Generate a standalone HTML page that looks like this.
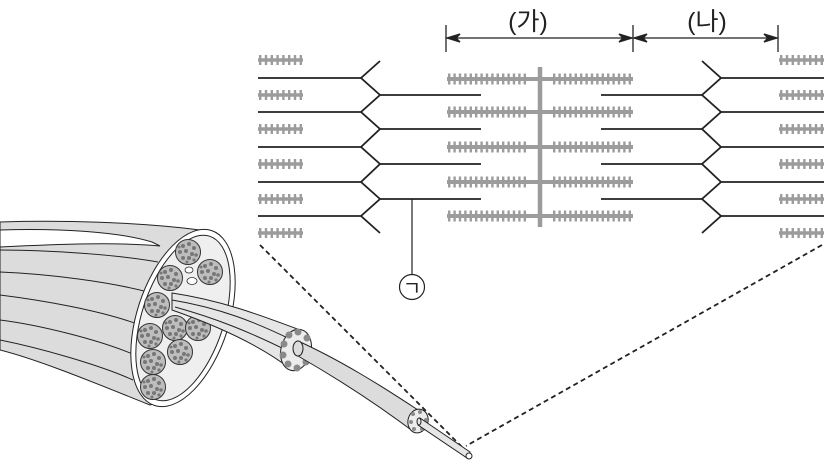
<!DOCTYPE html>
<html><head><meta charset="utf-8"><style>
html,body{margin:0;padding:0;background:#fff;width:831px;height:467px;overflow:hidden}
svg{display:block}
text{font-family:"Liberation Sans","Noto Sans CJK KR",sans-serif}
</style></head><body>
<svg width="831" height="467" viewBox="0 0 831 467" xmlns="http://www.w3.org/2000/svg">
<defs>
<g id="sm">
 <line x1="0" y1="0" x2="45" y2="0" stroke="#9c9c9c" stroke-width="3.5"/>
 <line x1="1" y1="0" x2="45" y2="0" stroke="#9c9c9c" stroke-width="10" stroke-dasharray="2.4 3.4"/>
</g>
<g id="bm">
 <line x1="447" y1="0" x2="633" y2="0" stroke="#9c9c9c" stroke-width="4"/>
 <line x1="448" y1="0" x2="527" y2="0" stroke="#9c9c9c" stroke-width="11" stroke-dasharray="2.4 3"/>
 <line x1="553" y1="0" x2="633" y2="0" stroke="#9c9c9c" stroke-width="11" stroke-dasharray="2.4 3"/>
</g>
<g id="fib">
 <circle r="12.5" fill="#bdbdbd" stroke="#333" stroke-width="1"/>
 <g fill="#777">
  <circle cx="-5" cy="-6" r="2"/><circle cx="1" cy="-8" r="2"/><circle cx="6" cy="-4" r="2"/>
  <circle cx="-8" cy="0" r="2"/><circle cx="-2" cy="-1" r="2"/><circle cx="4" cy="2" r="2"/>
  <circle cx="8" cy="3" r="1.8"/><circle cx="-5" cy="6" r="2"/><circle cx="1" cy="6" r="2"/>
  <circle cx="6" cy="8" r="1.6"/><circle cx="-1" cy="10" r="1.5"/><circle cx="-9" cy="-5" r="1.5"/>
 </g>
</g>
</defs>

<g stroke="#222" stroke-width="1.3" fill="#222">
 <line x1="446" y1="25" x2="446" y2="52"/>
 <line x1="633" y1="25" x2="633" y2="52"/>
 <line x1="778" y1="25" x2="778" y2="52"/>
 <line x1="447" y1="38" x2="632" y2="38"/>
 <line x1="634" y1="38" x2="777" y2="38"/>
 <path d="M447 38 L460 34 L456 38 L460 42Z"/>
 <path d="M632 38 L619 34 L623 38 L619 42Z"/>
 <path d="M634 38 L647 34 L643 38 L647 42Z"/>
 <path d="M777 38 L764 34 L768 38 L764 42Z"/>
</g>
<text x="528" y="30" font-size="25" text-anchor="middle" fill="#222">(가)</text>
<text x="707" y="30" font-size="25" text-anchor="middle" fill="#222">(나)</text>

<g>
 <use href="#sm" x="258" y="60"/><use href="#sm" x="258" y="95"/><use href="#sm" x="258" y="129"/>
 <use href="#sm" x="258" y="164"/><use href="#sm" x="258" y="199"/><use href="#sm" x="258" y="233"/>
 <use href="#sm" x="779" y="60"/><use href="#sm" x="779" y="95"/><use href="#sm" x="779" y="129"/>
 <use href="#sm" x="779" y="164"/><use href="#sm" x="779" y="199"/><use href="#sm" x="779" y="233"/>
</g>
<use href="#bm" y="79"/><use href="#bm" y="112"/><use href="#bm" y="147"/><use href="#bm" y="182"/><use href="#bm" y="216"/>
<line x1="540" y1="67" x2="540" y2="227" stroke="#9c9c9c" stroke-width="4.5"/>

<g stroke="#222" stroke-width="1.8" fill="none">
 <polyline points="380,61 361,78 380,95 361,112 380,129 361,147 380,164 361,182 380,199 361,216 380,233"/>
 <polyline points="702,61 721,78 702,95 721,112 702,129 721,147 702,164 721,182 702,199 721,216 702,233"/>
 <path d="M258 78H361M258 112H361M258 147H361M258 182H361M258 216H361"/>
 <path d="M380 95H481M380 129H481M380 164H481M380 199H481"/>
 <path d="M721 78H824M721 112H824M721 147H824M721 182H824M721 216H824"/>
 <path d="M601 95H702M601 129H702M601 164H702M601 199H702"/>
</g>
<line x1="412" y1="199" x2="412" y2="275" stroke="#222" stroke-width="1.2"/>
<circle cx="412" cy="287" r="12.5" fill="#fff" stroke="#222" stroke-width="1.2"/>
<text x="412" y="295" font-size="20" text-anchor="middle" fill="#222">ㄱ</text>

<g stroke="#222" stroke-width="1.8" stroke-dasharray="5 3.5" fill="none">
 <line x1="260" y1="245" x2="462" y2="447"/>
 <line x1="822" y1="245" x2="466" y2="446"/>
</g>

<g stroke="#222" stroke-width="1">
 <path d="M0 222 C60 220 140 222 200 230 L230 300 C215 360 190 395 150 405 C100 385 40 360 0 350 Z" fill="#dcdcdc"/>
 <path d="M0 230 C60 228 120 232 152 242 L160 246 C120 242 60 244 0 247Z" fill="#fff"/>
 <path d="M0 250 C50 250 120 255 158 262" fill="none"/>
 <path d="M0 272 C50 274 110 282 148 292" fill="none"/>
 <path d="M0 295 C40 300 100 310 140 325" fill="none"/>
 <path d="M0 320 C40 325 100 340 135 355" fill="none"/>
 <path d="M0 340 C40 348 100 365 133 380" fill="none"/>
 <ellipse cx="183" cy="318" rx="46" ry="92" transform="rotate(18 183 318)" fill="#fff"/>
 <ellipse cx="183" cy="318" rx="41" ry="86" transform="rotate(18 183 318)" fill="#efefef"/>
</g>
<use href="#fib" x="188" y="252"/><use href="#fib" x="210" y="272"/><use href="#fib" x="170" y="278"/>
<use href="#fib" x="157" y="305"/><use href="#fib" x="150" y="336"/><use href="#fib" x="175" y="328"/>
<use href="#fib" x="153" y="362"/><use href="#fib" x="153" y="387"/><use href="#fib" x="180" y="352"/>
<use href="#fib" x="198" y="328"/>
<ellipse cx="189" cy="270" rx="4" ry="3" fill="#fff" stroke="#333" stroke-width="0.8"/>
<ellipse cx="192" cy="281" rx="5" ry="3.5" fill="#fff" stroke="#333" stroke-width="0.8"/>

<!-- pulled fiber -->
<g stroke="#222" stroke-width="1">
 <path d="M172 293 C220 300 260 315 300 330 L292 370 C260 345 215 325 172 310 Z" fill="#e6e6e6"/>
 <path d="M172 300 C220 308 255 322 292 340" fill="none"/>
 <path d="M175 307 C215 318 250 332 290 352" fill="none"/>
 <ellipse cx="296" cy="350" rx="15" ry="21" transform="rotate(15 296 350)" fill="#ececec"/>
</g>
<g fill="#8a8a8a">
 <circle cx="289" cy="335" r="3.5"/><circle cx="298" cy="332" r="3.5"/><circle cx="307" cy="338" r="3.5"/>
 <circle cx="284" cy="344" r="3.5"/><circle cx="283" cy="355" r="3.5"/><circle cx="288" cy="364" r="3.5"/>
 <circle cx="297" cy="368" r="3.5"/><circle cx="306" cy="362" r="3.5"/><circle cx="310" cy="350" r="3"/>
</g>
<g stroke="#222" stroke-width="1">
 <path d="M298 341 C340 360 380 385 418 410 L414 432 C378 405 340 380 298 356 Z" fill="#dcdcdc"/>
 <ellipse cx="298" cy="348.5" rx="5" ry="7.5" fill="#dcdcdc"/>
 <ellipse cx="418" cy="421" rx="10" ry="12" transform="rotate(15 418 421)" fill="#ececec"/>
</g>
<g fill="#8a8a8a">
 <circle cx="413" cy="414" r="2"/><circle cx="420" cy="412" r="2"/><circle cx="411" cy="422" r="2"/>
 <circle cx="414" cy="429" r="2"/><circle cx="422" cy="429" r="2"/><circle cx="426" cy="420" r="2"/>
</g>
<g stroke="#222" stroke-width="1">
 <path d="M420 418 L470 452 L467 458 L418 425Z" fill="#e6e6e6"/>
 <ellipse cx="419" cy="421.5" rx="2" ry="3.5" fill="#e6e6e6"/>
 <ellipse cx="469" cy="456" rx="3" ry="3" fill="#fff"/>
</g>
</svg>
</body></html>
